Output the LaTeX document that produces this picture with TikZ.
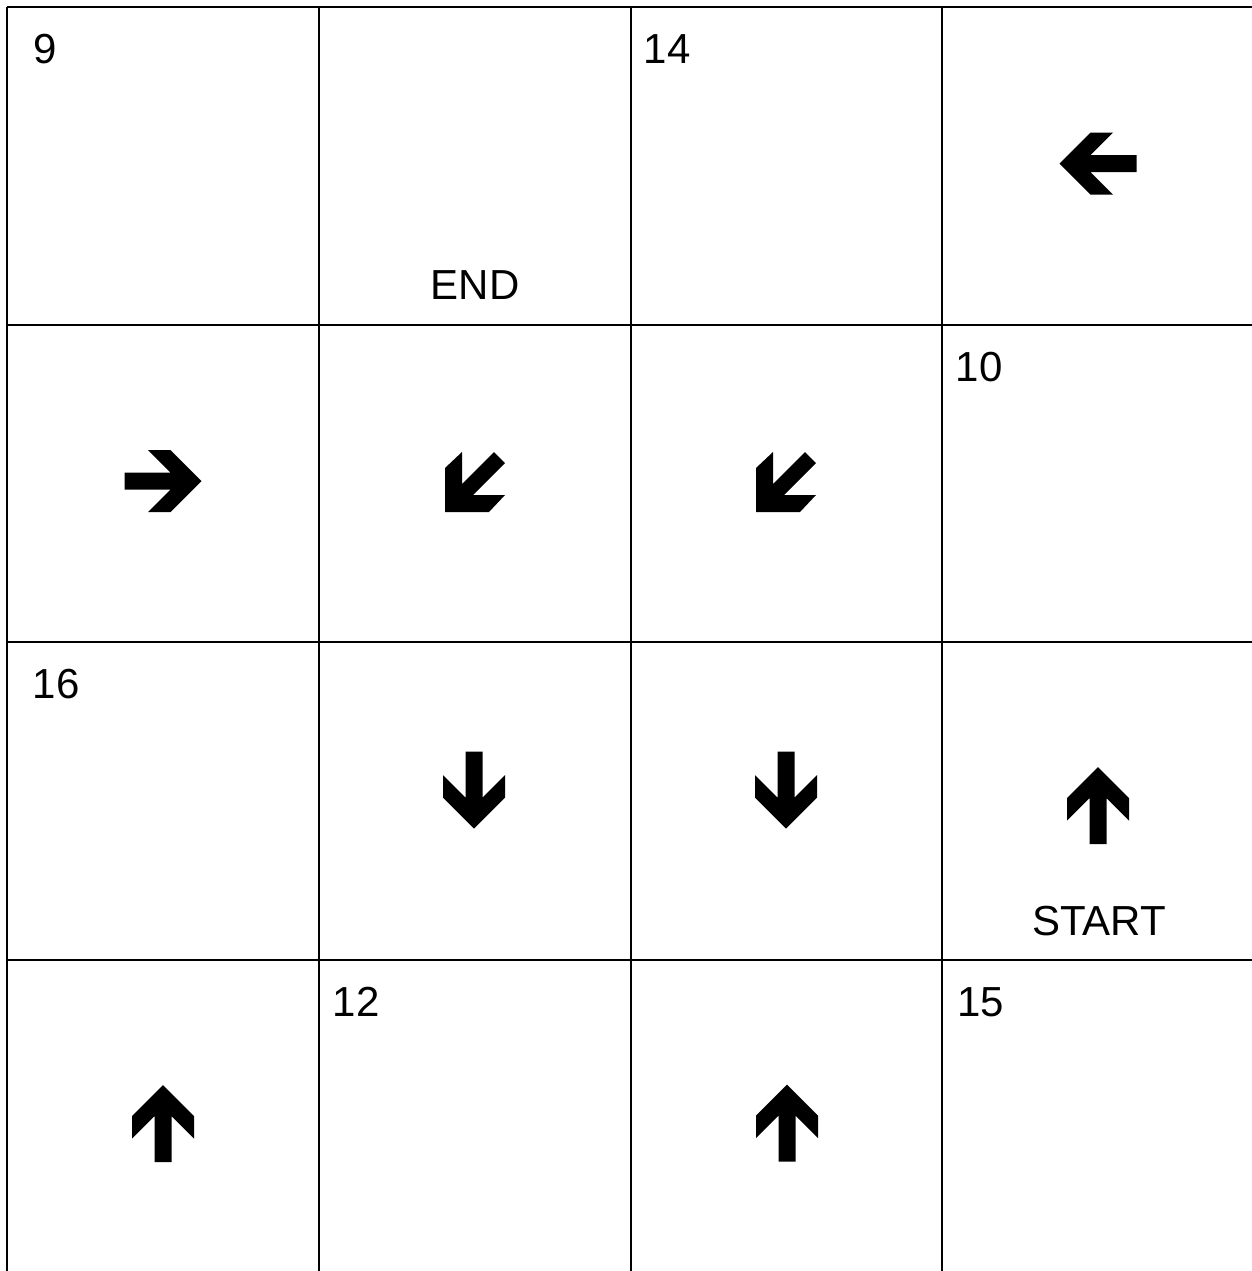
\documentclass[tikz,border=0pt]{standalone}
\usepackage{fontspec}
\setmainfont{Liberation Sans}

\begin{document}
\begin{tikzpicture}[x=0.5pt,y=-0.5pt,
  gridline/.style={line width=1pt},
  cellnum/.style={anchor=base west,inner sep=0pt,font=\fontsize{21}{25}\selectfont},
  celltext/.style={anchor=base,inner sep=0pt,font=\fontsize{21}{25}\selectfont},
  bigarrow/.pic={\fill (0,-38.5)--(31,-7.5)--(31,15)--(8.5,-7.5)--(8.5,38.5)--(-8.5,38.5)--(-8.5,-7.5)--(-31,15)--(-31,-7.5)--cycle;},
  diagarrow/.pic={\fill (-30,30)--(-30,-14)--(-13,-30)--(-13,2)--(19,-30)--(30,-19)--(-2,13)--(30,13)--(14,30)--cycle;}]
\useasboundingbox[fill=white] (0,0) rectangle (1252,1271);
% grid
\foreach \x in {7,319,631,942} \draw[gridline] (\x,7)--(\x,1271);
\foreach \y in {7,325,642,960} \draw[gridline] (7,\y)--(1252,\y);
% numbers
\node[cellnum] (n9) at (33,63) {9};
\node[cellnum] (n14) at (643.5,63) {14};
\node[cellnum] (n10) at (955.5,381) {10};
\node[cellnum] (n16) at (32.5,698) {16};
\node[cellnum] (n12) at (332.5,1016) {12};
\node[cellnum] (n15) at (957,1016) {15};
% labels
\node[celltext] (endlbl) at (475,299) {END};
\node[celltext] (startlbl) at (1099,935) {START};
% arrows
\pic[rotate=90] at (1098,163.5) {bigarrow};
\pic[rotate=-90] at (163,481) {bigarrow};
\pic at (475,482) {diagarrow};
\pic at (786,482) {diagarrow};
\pic[rotate=180] at (474,790) {bigarrow};
\pic[rotate=180] at (786,790) {bigarrow};
\pic at (1098,805.5) {bigarrow};
\pic at (163,1123.5) {bigarrow};
\pic at (787,1123) {bigarrow};
\end{tikzpicture}
\end{document}
